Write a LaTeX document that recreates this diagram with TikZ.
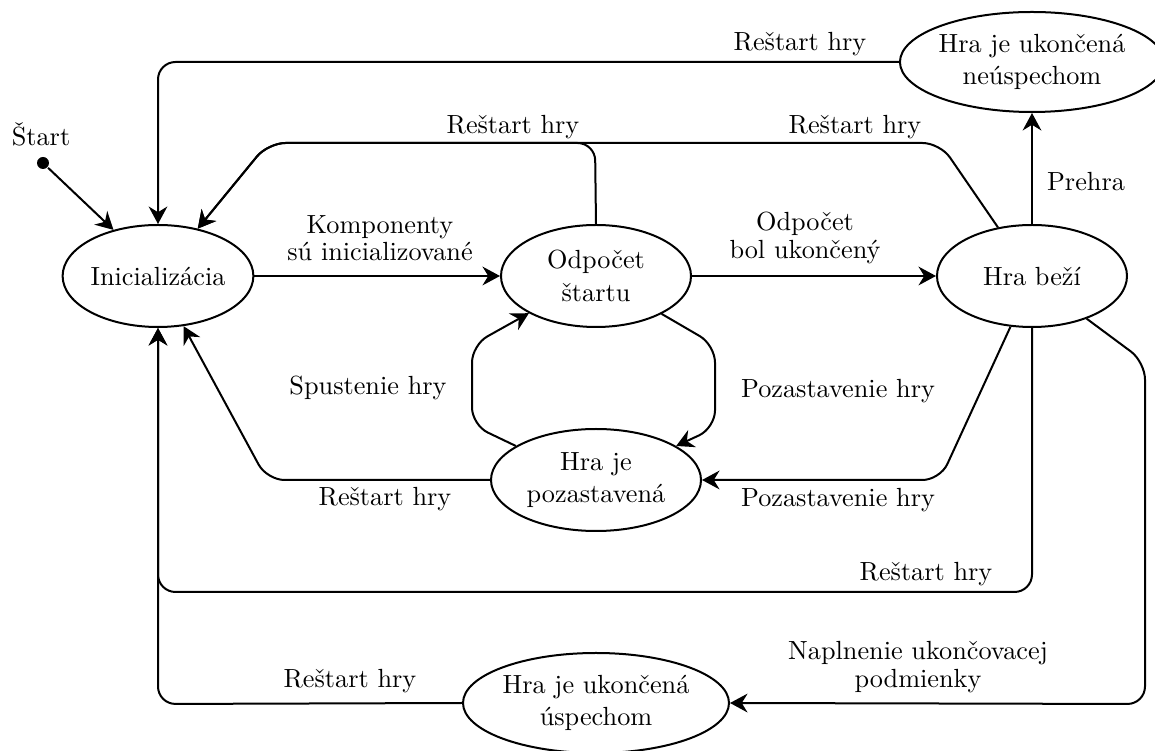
\documentclass[tikz,border=0pt]{standalone}
\usetikzlibrary{arrows.meta,shapes.geometric}
\begin{document}
\begin{tikzpicture}[x=0.4pt,y=-0.4pt,
  font=\fontsize{10.5}{13}\selectfont, line width=0.8pt,
  state/.style={draw, ellipse, inner sep=0pt, align=center,
                minimum width=76pt, minimum height=40.8pt},
  flow/.style={-{Stealth[length=7pt,width=7.5pt,inset=2.3pt]}, rounded corners=7pt},
  lbl/.style={inner sep=0pt, align=center}]
\useasboundingbox (0,0) rectangle (1155,751);

% states
\node[fill, circle, inner sep=0pt, minimum size=4.8pt] (start) at (43,163) {};
\node[lbl] (startlbl) at (41,134) {Štart};
\node[state] (ini) at (158,276) {Inicializácia};
\node[state] (odp) at (596,276) {Odpočet\\štartu};
\node[state] (beh) at (1032,276) {Hra beží};
\node[state, minimum width=103pt, minimum height=40pt] (neu) at (1032,62) {Hra je ukončená\\neúspechom};
\node[state, minimum width=84pt] (poz) at (596,480) {Hra je\\pozastavená};
\node[state, minimum width=106.4pt, minimum height=40pt] (usp) at (596,703) {Hra je ukončená\\úspechom};

% bend points of the routed connectors
\coordinate (topL) at (158,62);
\coordinate (midL) at (268,143);
\coordinate (odpT) at (595,143);
\coordinate (behT) at (940,143);
\coordinate (rA) at (715,345);
\coordinate (rB) at (715,428);
\coordinate (lA) at (472,425);
\coordinate (lB) at (472,345);
\coordinate (pzR) at (940,480);
\coordinate (pzL) at (267,480);
\coordinate (loopR) at (1032,592);
\coordinate (loopL) at (158,592);
\coordinate (botL) at (158,704);
\coordinate (farR1) at (1145,362);
\coordinate (farR2) at (1145,704);

% connectors
\draw[flow] (start) -- (ini.134);
\draw[flow] (neu.west) -- (topL) -- (ini.north);
\draw[flow] (odp.north) -- (odpT) -- (midL) -- (ini.50);
\draw[flow] (beh.125) -- (behT) -- (midL) -- (ini.50);
\draw[flow] (ini.east) -- (odp.west);
\draw[flow] (odp.east) -- (beh.west);
\draw[flow] (beh.north) -- (neu.south);
\draw[flow] (odp.-30) -- (rA) -- (rB) -- (poz.23);
\draw[flow] (poz.157) -- (lA) -- (lB) -- (odp.-151);
\draw[flow] (beh.-113) -- (pzR) -- (poz.east);
\draw[flow] (poz.west) -- (pzL) -- (ini.-63);
\draw[flow] (beh.south) -- (loopR) -- (loopL) -- (ini.south);
\draw[flow] (usp.west) -- (botL) -- (ini.south);
\draw[flow] (beh.-38) -- (farR1) -- (farR2) -- (usp.east);

% connector labels
\node[lbl] (l1) at (800,44) {Reštart hry};
\node[lbl] (l2) at (513,127) {Reštart hry};
\node[lbl] (l3) at (855,127) {Reštart hry};
\node[lbl] (l4) at (380,238) {Komponenty\\[-2pt]sú inicializované};
\node[lbl] (l5) at (805,238) {Odpočet\\[-2pt]bol ukončený};
\node[lbl] (l6) at (1086,182) {Prehra};
\node[lbl] (l7) at (368,388) {Spustenie hry};
\node[lbl] (l8) at (838,391) {Pozastavenie hry};
\node[lbl] (l9) at (838,500) {Pozastavenie hry};
\node[lbl] (l10) at (385,499) {Reštart hry};
\node[lbl] (l11) at (926,574) {Reštart hry};
\node[lbl] (l12) at (350,681) {Reštart hry};
\node[lbl] (l13) at (918,667) {Naplnenie ukončovacej\\[-2pt]podmienky};
\end{tikzpicture}
\end{document}
